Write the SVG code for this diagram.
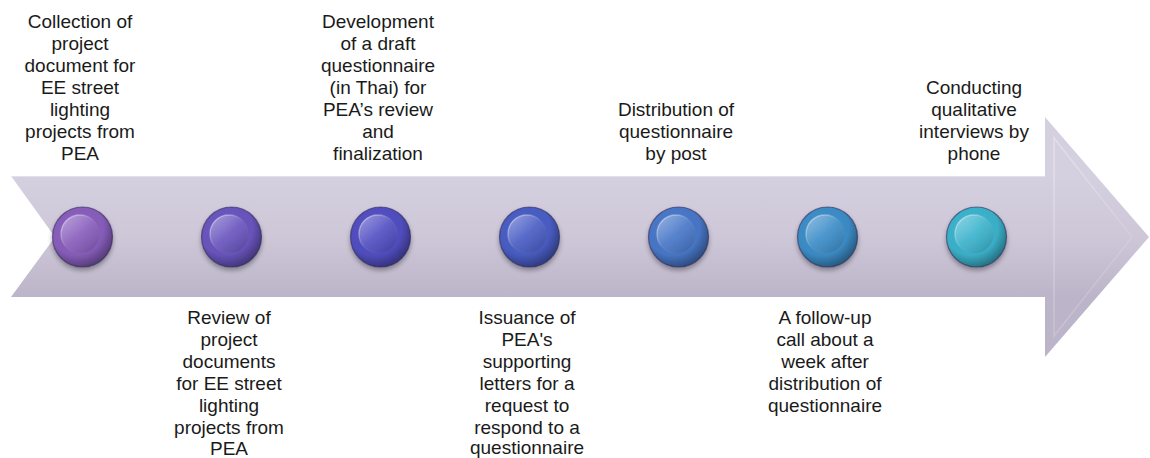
<svg xmlns="http://www.w3.org/2000/svg" width="1150" height="458" viewBox="0 0 1150 458">
  <style>
    .label { font-family: "Liberation Sans", Arial, sans-serif; font-size: 19px; fill: #1a1a1a; text-anchor: middle; }
    .rim { fill: url(#rimShade); }
    .edge { fill: none; stroke: #2a2450; stroke-opacity: 0.55; stroke-width: 1.2; }
    .inner { fill: url(#innerShade); }
    .innerEdge { fill: none; stroke: url(#innerEdgeGrad); stroke-width: 1.4; }
  </style>
  <defs>
    <linearGradient id="arrowFill" gradientUnits="userSpaceOnUse" x1="0" y1="176" x2="0" y2="297">
      <stop offset="0" stop-color="#d5d0e0"/>
      <stop offset="0.5" stop-color="#cdc7d8"/>
      <stop offset="1" stop-color="#bcb5c9"/>
    </linearGradient>
    <linearGradient id="bevel" x1="0" y1="0" x2="1" y2="1">
      <stop offset="0" stop-color="#ffffff" stop-opacity="0.3"/>
      <stop offset="1" stop-color="#ffffff" stop-opacity="0.05"/>
    </linearGradient>
    <radialGradient id="rimShade" cx="0.4" cy="0.35" r="0.65">
      <stop offset="0" stop-color="#000000" stop-opacity="0"/>
      <stop offset="0.7" stop-color="#000000" stop-opacity="0.05"/>
      <stop offset="1" stop-color="#000000" stop-opacity="0.35"/>
    </radialGradient>
    <linearGradient id="innerShade" x1="0.15" y1="0.1" x2="0.85" y2="0.9">
      <stop offset="0" stop-color="#ffffff" stop-opacity="0.35"/>
      <stop offset="0.5" stop-color="#ffffff" stop-opacity="0.08"/>
      <stop offset="1" stop-color="#000000" stop-opacity="0.1"/>
    </linearGradient>
    <linearGradient id="innerEdgeGrad" x1="0" y1="0" x2="1" y2="1">
      <stop offset="0" stop-color="#ffffff" stop-opacity="0.6"/>
      <stop offset="0.5" stop-color="#ffffff" stop-opacity="0.05"/>
      <stop offset="1" stop-color="#000000" stop-opacity="0.12"/>
    </linearGradient>
    <filter id="beadShadow" x="-30%" y="-30%" width="160%" height="170%">
      <feGaussianBlur in="SourceAlpha" stdDeviation="2.5"/>
      <feOffset dx="0" dy="3" result="b"/>
      <feComponentTransfer><feFuncA type="linear" slope="0.35"/></feComponentTransfer>
      <feMerge><feMergeNode/><feMergeNode in="SourceGraphic"/></feMerge>
    </filter>
  </defs>

  <!-- timeline arrow -->
  <g id="connectors">
    <polygon id="timeline-arrow" points="11,176 1045,176 1045,117 1149,237 1045,357 1045,297 11,297 55,237" fill="url(#arrowFill)"/>
    <polygon points="1054,138 1132,237 1054,336" fill="none" stroke="url(#bevel)" stroke-width="1.5"/>
    <line x1="11" y1="176.5" x2="1045" y2="176.5" stroke="#ffffff" stroke-opacity="0.35" stroke-width="1"/>
  </g>

  <!-- step 1 -->
  <g id="step1">
    <g filter="url(#beadShadow)">
      <circle cx="82.5" cy="237" r="30" fill="#8b60c0"/>
      <circle class="rim" cx="82.5" cy="237" r="30"/>
      <circle class="edge" cx="82.5" cy="237" r="30"/>
      <circle class="inner" cx="80" cy="234" r="19"/>
      <circle class="innerEdge" cx="80" cy="234" r="19"/>
    </g>
    <text class="label" x="80" y="28">Collection of</text>
    <text class="label" x="80" y="50">project</text>
    <text class="label" x="80" y="72">document for</text>
    <text class="label" x="80" y="94">EE street</text>
    <text class="label" x="80" y="116">lighting</text>
    <text class="label" x="80" y="138">projects from</text>
    <text class="label" x="80" y="160">PEA</text>
  </g>

  <!-- step 2 -->
  <g id="step2">
    <g filter="url(#beadShadow)">
      <circle cx="231.5" cy="237" r="30" fill="#6c57c2"/>
      <circle class="rim" cx="231.5" cy="237" r="30"/>
      <circle class="edge" cx="231.5" cy="237" r="30"/>
      <circle class="inner" cx="229" cy="234" r="19"/>
      <circle class="innerEdge" cx="229" cy="234" r="19"/>
    </g>
    <text class="label" x="229" y="324">Review of</text>
    <text class="label" x="229" y="346">project</text>
    <text class="label" x="229" y="368">documents</text>
    <text class="label" x="229" y="390">for EE street</text>
    <text class="label" x="229" y="412">lighting</text>
    <text class="label" x="229" y="434">projects from</text>
    <text class="label" x="229" y="455">PEA</text>
  </g>

  <!-- step 3 -->
  <g id="step3">
    <g filter="url(#beadShadow)">
      <circle cx="380.5" cy="237" r="30" fill="#5451c6"/>
      <circle class="rim" cx="380.5" cy="237" r="30"/>
      <circle class="edge" cx="380.5" cy="237" r="30"/>
      <circle class="inner" cx="378" cy="234" r="19"/>
      <circle class="innerEdge" cx="378" cy="234" r="19"/>
    </g>
    <text class="label" x="378" y="28">Development</text>
    <text class="label" x="378" y="50">of a draft</text>
    <text class="label" x="378" y="72">questionnaire</text>
    <text class="label" x="378" y="94">(in Thai) for</text>
    <text class="label" x="378" y="116">PEA’s review</text>
    <text class="label" x="378" y="138">and</text>
    <text class="label" x="378" y="160">finalization</text>
  </g>

  <!-- step 4 -->
  <g id="step4">
    <g filter="url(#beadShadow)">
      <circle cx="529.5" cy="237" r="30" fill="#4b5fc8"/>
      <circle class="rim" cx="529.5" cy="237" r="30"/>
      <circle class="edge" cx="529.5" cy="237" r="30"/>
      <circle class="inner" cx="527" cy="234" r="19"/>
      <circle class="innerEdge" cx="527" cy="234" r="19"/>
    </g>
    <text class="label" x="527" y="324">Issuance of</text>
    <text class="label" x="527" y="346">PEA's</text>
    <text class="label" x="527" y="368">supporting</text>
    <text class="label" x="527" y="390">letters for a</text>
    <text class="label" x="527" y="412">request to</text>
    <text class="label" x="527" y="434">respond to a</text>
    <text class="label" x="527" y="454">questionnaire</text>
  </g>

  <!-- step 5 -->
  <g id="step5">
    <g filter="url(#beadShadow)">
      <circle cx="678.5" cy="237" r="30" fill="#4a7acc"/>
      <circle class="rim" cx="678.5" cy="237" r="30"/>
      <circle class="edge" cx="678.5" cy="237" r="30"/>
      <circle class="inner" cx="676" cy="234" r="19"/>
      <circle class="innerEdge" cx="676" cy="234" r="19"/>
    </g>
    <text class="label" x="676" y="116">Distribution of</text>
    <text class="label" x="676" y="138">questionnaire</text>
    <text class="label" x="676" y="160">by post</text>
  </g>

  <!-- step 6 -->
  <g id="step6">
    <g filter="url(#beadShadow)">
      <circle cx="827.5" cy="237" r="30" fill="#3e90cc"/>
      <circle class="rim" cx="827.5" cy="237" r="30"/>
      <circle class="edge" cx="827.5" cy="237" r="30"/>
      <circle class="inner" cx="825" cy="234" r="19"/>
      <circle class="innerEdge" cx="825" cy="234" r="19"/>
    </g>
    <text class="label" x="825" y="324">A follow-up</text>
    <text class="label" x="825" y="346">call about a</text>
    <text class="label" x="825" y="368">week after</text>
    <text class="label" x="825" y="390">distribution of</text>
    <text class="label" x="825" y="412">questionnaire</text>
  </g>

  <!-- step 7 -->
  <g id="step7">
    <g filter="url(#beadShadow)">
      <circle cx="976.5" cy="237" r="30" fill="#3db6d0"/>
      <circle class="rim" cx="976.5" cy="237" r="30"/>
      <circle class="edge" cx="976.5" cy="237" r="30"/>
      <circle class="inner" cx="974" cy="234" r="19"/>
      <circle class="innerEdge" cx="974" cy="234" r="19"/>
    </g>
    <text class="label" x="974" y="94">Conducting</text>
    <text class="label" x="974" y="116">qualitative</text>
    <text class="label" x="974" y="138">interviews by</text>
    <text class="label" x="974" y="160">phone</text>
  </g>
</svg>
